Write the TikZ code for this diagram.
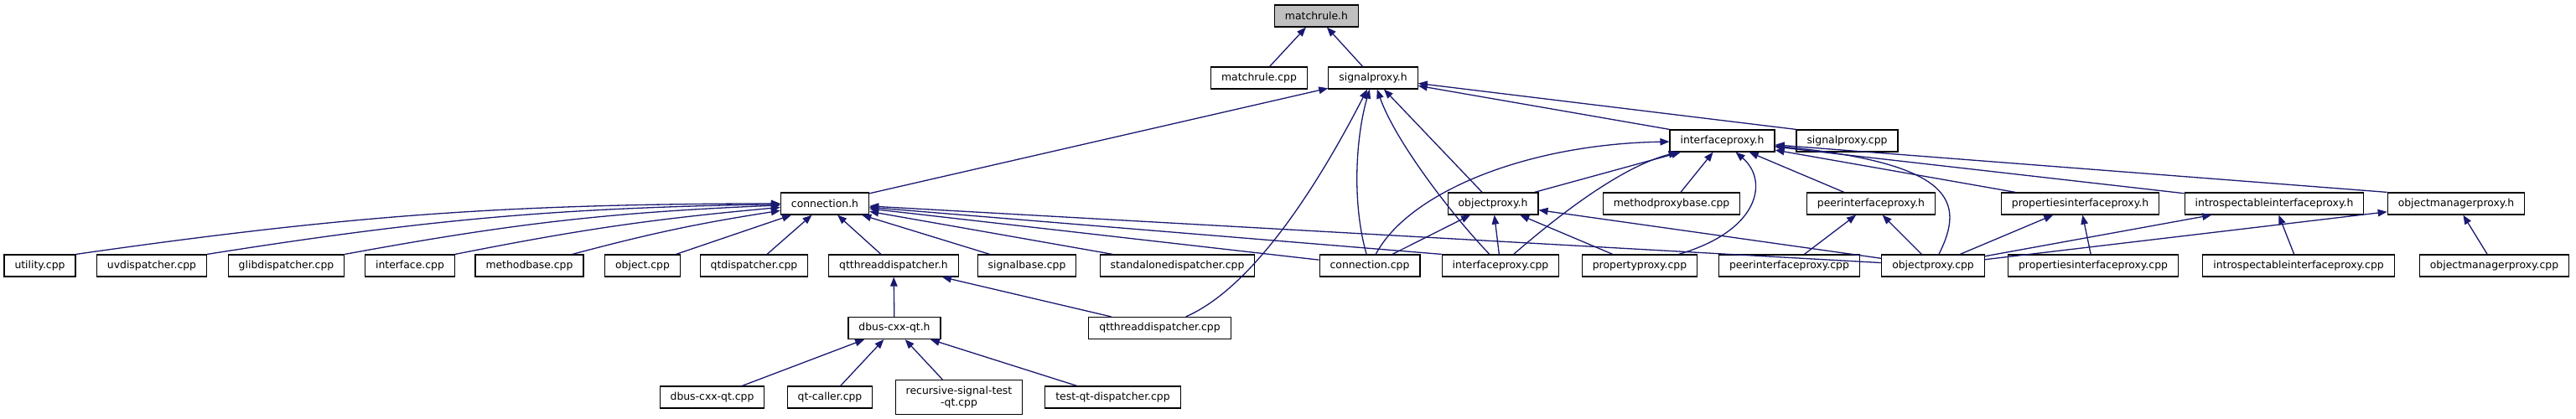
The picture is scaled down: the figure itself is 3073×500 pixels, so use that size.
\documentclass[tikz,border=0pt]{standalone}
\usepackage{fontspec}
\setmainfont{DejaVu Sans}
\usetikzlibrary{arrows.meta}
\definecolor{edgeblue}{HTML}{191970}
\definecolor{topgrey}{HTML}{BFBFBF}
\tikzset{
	file/.style={draw=black, line width=1.2pt, fill=white, inner xsep=12.5pt, inner ysep=0pt,
		minimum height=26pt, font=\fontsize{12.4}{14.5}\selectfont, align=center},
	topfile/.style={file, fill=topgrey},
	inc/.style={draw=edgeblue, line width=1.3pt, -{Triangle[length=11pt,width=8.5pt]}}
}
\begin{document}
\begin{tikzpicture}[x=1pt, y=-1pt]
	\useasboundingbox (0,0) rectangle (3073,500);
	% rows of files
	\node[topfile] (mh) at (1570.5,19) {matchrule.h};
	\node[file] (mcpp) at (1502,93) {matchrule.cpp};
	\node[file] (sph) at (1638,93) {signalproxy.h};
	\node[file] (iph) at (2054.5,168) {interfaceproxy.h};
	\node[file] (spcpp) at (2203.5,168) {signalproxy.cpp};

	\node[file] (ch) at (984,243) {connection.h};
	\node[file] (oph) at (1781,243) {objectproxy.h};
	\node[file] (mpbcpp) at (1994,243) {methodproxybase.cpp};
	\node[file] (piph) at (2232,243) {peerinterfaceproxy.h};
	\node[file] (prh) at (2481.5,243) {propertiesinterfaceproxy.h};
	\node[file] (iih) at (2713,243) {introspectableinterfaceproxy.h};
	\node[file] (omh) at (2930,243) {objectmanagerproxy.h};

	\node[file] (ucpp) at (47.5,317) {utility.cpp};
	\node[file] (uvcpp) at (181,317) {uvdispatcher.cpp};
	\node[file] (glcpp) at (341.5,317) {glibdispatcher.cpp};
	\node[file] (icpp) at (489,317) {interface.cpp};
	\node[file] (mbcpp) at (631.5,317) {methodbase.cpp};
	\node[file] (ocpp) at (766.5,317) {object.cpp};
	\node[file] (qdcpp) at (899.5,317) {qtdispatcher.cpp};
	\node[file] (qth) at (1066,317) {qtthreaddispatcher.h};
	\node[file] (sbcpp) at (1225,317) {signalbase.cpp};
	\node[file] (sdcpp) at (1404.5,317) {standalonedispatcher.cpp};
	\node[file] (ccpp) at (1634,317) {connection.cpp};
	\node[file] (ipcpp) at (1790,317) {interfaceproxy.cpp};
	\node[file] (ppcpp) at (1956,317) {propertyproxy.cpp};
	\node[file] (pipcpp) at (2134.5,317) {peerinterfaceproxy.cpp};
	\node[file] (opcpp) at (2306,317) {objectproxy.cpp};
	\node[file] (prcpp) at (2497,317) {propertiesinterfaceproxy.cpp};
	\node[file] (iicpp) at (2742,317) {introspectableinterfaceproxy.cpp};
	\node[file] (omcpp) at (2975.5,317) {objectmanagerproxy.cpp};

	\node[file] (dqh) at (1067,391.5) {dbus-cxx-qt.h};
	\node[file] (qtcpp) at (1383.5,391.5) {qtthreaddispatcher.cpp};

	\node[file] (dqcpp) at (849.5,474) {dbus-cxx-qt.cpp};
	\node[file] (qccpp) at (990,474) {qt-caller.cpp};
	\node[file, minimum height=41pt] (rscpp) at (1144,474) {recursive-signal-test\\-qt.cpp};
	\node[file] (tqcpp) at (1327.5,474) {test-qt-dispatcher.cpp};

	% includes of matchrule.h
	\draw [inc] (mcpp) -- (mh);
	\draw [inc] (sph) -- (mh);

	% includes of signalproxy.h
	\draw [inc] (ch) -- (sph);
	\draw [inc] (iph.north west) -- (sph);
	\draw [inc] (spcpp.north west) -- (sph);
	\draw [inc] (oph) -- (sph);
	\draw [inc] (ipcpp) .. controls (1735,260) and (1665,170) .. (sph);
	\draw [inc] (ccpp) .. controls (1612,240) and (1618,160) .. (sph);
	\draw [inc] (qtcpp) .. controls (1490,345) and (1565,235) .. (sph);

	% includes of interfaceproxy.h
	\draw [inc] (ccpp) .. controls (1680,230) and (1820,172) .. (iph);
	\draw [inc] (oph) -- (iph);
	\draw [inc] (ipcpp) .. controls (1850,265) and (1930,200) .. (iph);
	\draw [inc] (mpbcpp) -- (iph);
	\draw [inc] (ppcpp) .. controls (2100,275) and (2110,215) .. (iph);
	\draw [inc] (piph) -- (iph);
	\draw [inc] (opcpp) .. controls (2345,240) and (2330,195) .. (iph);
	\draw [inc] (prh) -- (iph);
	\draw [inc] (iih) -- (iph);
	\draw [inc] (omh.north west) -- (iph);

	% includes of connection.h
	\draw [inc] (ucpp.north east) to[bend left=4] (ch);
	\draw [inc] (uvcpp.north east) to[bend left=4] (ch);
	\draw [inc] (glcpp.north east) to[bend left=4] (ch);
	\draw [inc] (icpp.north east) to[bend left=3] (ch);
	\draw [inc] (mbcpp) to[bend left=3] (ch);
	\draw [inc] (ocpp) -- (ch);
	\draw [inc] (qdcpp) -- (ch);
	\draw [inc] (qth) -- (ch);
	\draw [inc] (sbcpp) -- (ch);
	\draw [inc] (sdcpp) -- (ch);
	\draw [inc] (ccpp) -- (ch);
	\draw [inc] (ipcpp.north west) -- (ch);
	\draw [inc] (opcpp) -- (ch);

	% includes of objectproxy.h
	\draw [inc] (ccpp) -- (oph);
	\draw [inc] (ipcpp) -- (oph);
	\draw [inc] (ppcpp) -- (oph);
	\draw [inc] (opcpp) -- (oph);

	% the proxy headers
	\draw [inc] (pipcpp) -- (piph);
	\draw [inc] (opcpp) -- (piph);
	\draw [inc] (opcpp) -- (prh);
	\draw [inc] (prcpp) -- (prh);
	\draw [inc] (opcpp) -- (iih);
	\draw [inc] (iicpp) -- (iih);
	\draw [inc] (opcpp) -- (omh);
	\draw [inc] (omcpp) -- (omh);

	% qt side
	\draw [inc] (dqh) -- (qth);
	\draw [inc] (qtcpp) -- (qth);
	\draw [inc] (dqcpp) -- (dqh);
	\draw [inc] (qccpp) -- (dqh);
	\draw [inc] (rscpp) -- (dqh);
	\draw [inc] (tqcpp) -- (dqh);
\end{tikzpicture}
\end{document}
